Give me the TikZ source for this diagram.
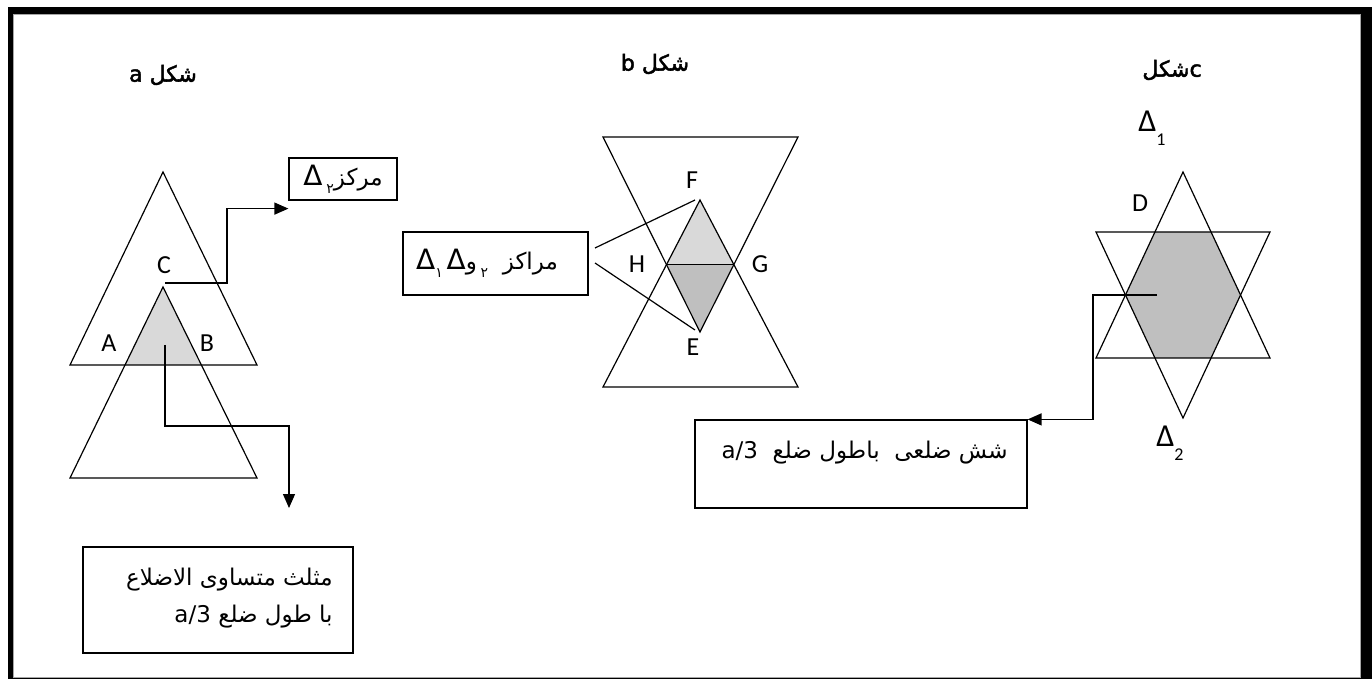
\documentclass[tikz,border=0pt]{standalone}
\usepackage{fontspec}
\setmainfont{Carlito}
\newfontfamily\arabicfont[Script=Arabic]{DejaVu Sans}
\newfontfamily\arabicbold[Script=Arabic,FakeBold=2]{DejaVu Sans}
\TeXXeTstate=1
\usepackage{xcolor}
\usetikzlibrary{arrows.meta, calc, positioning}

\definecolor{lightgrey}{HTML}{D9D9D9}
\definecolor{midgrey}{HTML}{BFBFBF}

\newcommand{\bigdelta}{{\fontsize{14}{15}\selectfont Δ}}
\newcommand{\lowdigit}[1]{\raisebox{-4pt}{\fontsize{7}{8}\selectfont #1}}

\begin{document}
\begin{tikzpicture}[
    x=0.5pt, y=-0.5pt,
    shapeline/.style={draw, line width=0.6pt, line join=miter},
    edge/.style={line width=0.6pt},
    arr/.style={line width=0.7pt, -{Triangle[length=7pt, width=6pt]}},
    textbox/.style={draw, line width=0.6pt, inner sep=0pt},
    vlabel/.style={font=\fontsize{13}{15}\selectfont, inner sep=0pt},
    atext/.style={font=\arabicfont\fontsize{11.5}{13}\selectfont, inner sep=0pt},
    title/.style={font=\arabicbold\fontsize{11}{12}\selectfont, inner sep=0pt}
]
    \useasboundingbox (0,0) rectangle (1372,679);

    % ===============================
    % 0. FRAME
    % ===============================
    \fill[black] (8,7) rectangle (1372,679);
    \filldraw[fill=white, draw=gray!70, line width=0.5pt] (13.5,14.5) rectangle (1360.5,677.5);

    % ===============================
    % 1. TITLES
    % ===============================
    \node[title] (titleA) at (163,75) {\beginR شكل \beginL a\endL\endR};
    \node[title] (titleB) at (655,64) {\beginR شكل \beginL b\endL\endR};
    \node[title] (titleC) at (1172,70) {\beginR شكل\endR c};

    % ===============================
    % 2. FIGURE a
    % ===============================
    \coordinate (aTop) at (163,172);
    \coordinate (aApex) at (163,287);
    \fill[lightgrey] (aApex) -- (125,365) -- (201,365) -- cycle;
    \draw[shapeline] (aTop) -- (70,365) -- (257,365) -- cycle;
    \draw[shapeline] (aApex) -- (70,478) -- (257,478) -- cycle;

    \node[vlabel] (labC) at (164,265) {C};
    \node[vlabel] (labA) at (109,343) {A};
    \node[vlabel] (labB) at (207,343) {B};

    % centre box
    \node[textbox, minimum width=54pt, minimum height=21pt] (boxCentre) at (343,179) {};
    \node[atext] (txtCentre) at (343,179) {\bigdelta\,\lowdigit{٢}\beginR مركز\endR};

    % result box
    \node[textbox, minimum width=135pt, minimum height=53pt] (boxTri) at (218,600) {};
    \node[atext, anchor=east] (txtTri1) at (333,580) {\beginR مثلث متساوی الاضلاع\endR};
    \node[atext, anchor=east] (txtTri2) at (333,617) {\beginR با طول ضلع \beginL a/3\endL\endR};

    \coordinate (fromC) at (165,283);
    \coordinate (fromIn) at (165,345);
    \coordinate (tipTri) at (289,508);
    \draw[arr] (fromC) -- ++(62,0) |- ($(boxCentre.south west)+(0,8)$);
    \draw[arr] (fromIn) -- ++(0,81) -| (tipTri);

    % ===============================
    % 3. FIGURE b
    % ===============================
    \coordinate (F) at (700,200);
    \coordinate (E) at (700,332);
    \coordinate (H) at (666.4,264.5);
    \coordinate (G) at (733.6,264.5);
    \fill[lightgrey] (F) -- (H) -- (G) -- cycle;
    \fill[midgrey] (H) -- (E) -- (G) -- cycle;
    \draw[shapeline] (F) -- (603,387) -- (798,387) -- cycle;
    \draw[shapeline] (603,137) -- (798,137) -- (E) -- cycle;
    \draw[edge] (H) -- (G);

    \node[vlabel] (labF) at (692,180) {F};
    \node[vlabel] (labH) at (637,264) {H};
    \node[vlabel] (labG) at (760,264) {G};
    \node[vlabel] (labE) at (693,347) {E};

    \node[textbox, minimum width=92.5pt, minimum height=31.5pt] (boxCentres) at (495.5,263.5) {};
    \node[atext] (txtCentres) at (487,263) {\bigdelta\lowdigit{١}\,\bigdelta\beginR و\endR\,\lowdigit{٢}\ \ \beginR مراكز\endR};

    \coordinate (outF) at (595,248);
    \coordinate (outE) at (595,263);
    \draw[edge] (outF) -- ($(F)+(-5,0)$);
    \draw[edge] (outE) -- ($(E)+(-5,-2)$);

    % ===============================
    % 4. FIGURE c
    % ===============================
    \fill[midgrey] (1154.9,232) -- (1211.1,232) -- (1240.5,295) -- (1211.1,358) -- (1154.9,358) -- (1125.5,295) -- cycle;
    \draw[shapeline] (1183,172) -- (1096,358) -- (1270,358) -- cycle;
    \draw[shapeline] (1096,232) -- (1270,232) -- (1183,418) -- cycle;

    \node[vlabel] (labD) at (1140,203) {D};
    \node[vlabel] (labT1) at (1152,128) {{\fontsize{16}{17}\selectfont Δ}\raisebox{-7pt}{\fontsize{9}{10}\selectfont 1}};
    \node[vlabel] (labT2) at (1170,443) {{\fontsize{16}{17}\selectfont Δ}\raisebox{-7pt}{\fontsize{9}{10}\selectfont 2}};

    \node[textbox, minimum width=166pt, minimum height=44pt] (boxHex) at (861,464) {};
    \node[atext, anchor=east] (txtHex) at (1008,453) {\beginR شش ضلعی\ \ باطول ضلع\ \ \beginL a/3\endL\endR};

    \coordinate (fromHex) at (1157,295);
    \draw[arr] (fromHex) -- ++(-64,0) |- (boxHex.north east);

\end{tikzpicture}
\end{document}
